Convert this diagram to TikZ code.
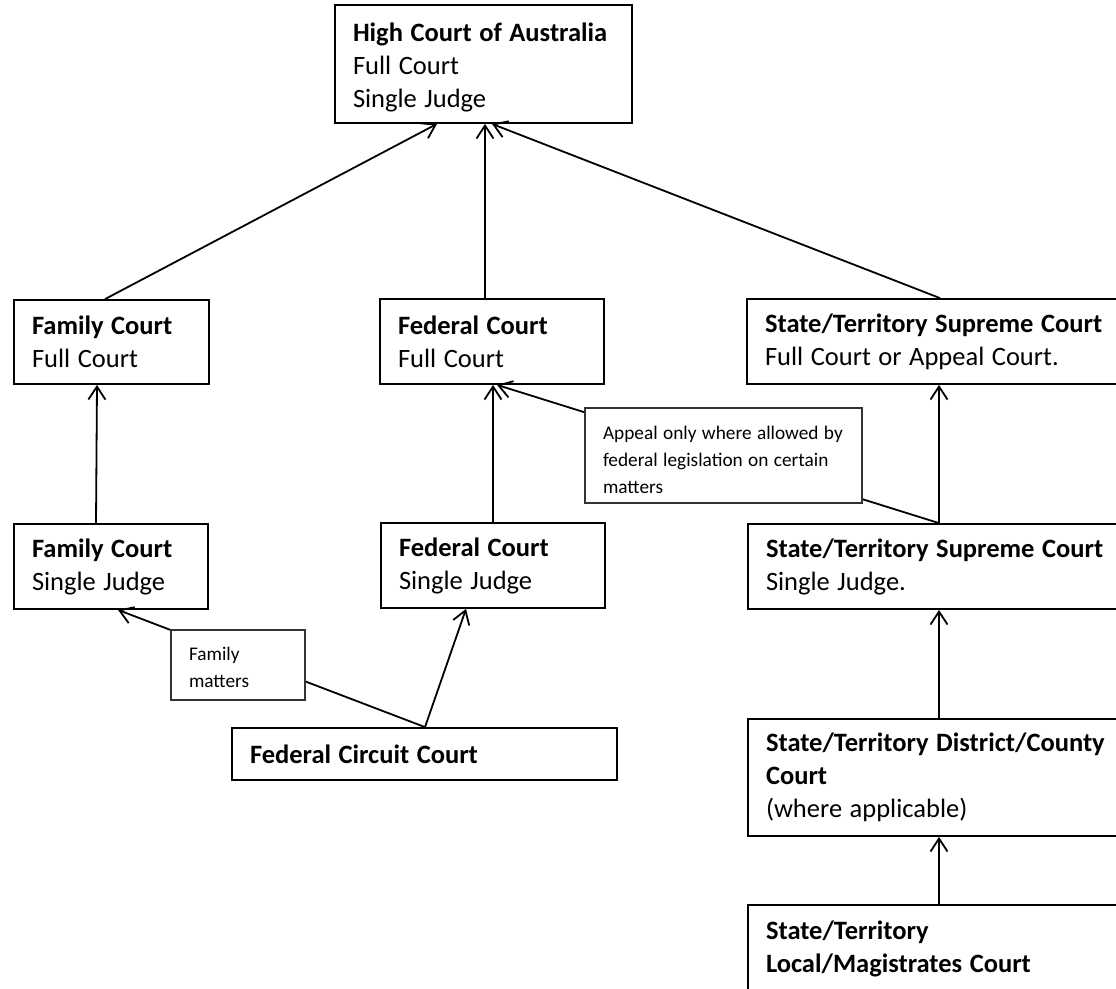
\documentclass[tikz,border=0pt]{standalone}
\usepackage{fontspec}
\setmainfont{Carlito}
\usetikzlibrary{arrows.meta}
\tikzset{
  box/.style={draw=black, line width=1.8pt, fill=white, rectangle, inner xsep=18pt, inner ysep=0pt,
    align=left, font=\fontsize{26.5}{33}\selectfont, execute at begin node={\spaceskip=0.285em\relax}},
  notebox/.style={draw=black!80, line width=1.1pt, fill=white, rectangle, inner xsep=18pt, inner ysep=0pt,
    align=left, font=\fontsize{19.3}{27}\selectfont, execute at begin node={\spaceskip=0.28em\relax}},
  link/.style={line width=1.8pt, -{Straight Barb[length=13pt,width=17pt,line width=1.8pt]}}
}
\begin{document}
\begin{tikzpicture}[x=1pt,y=-1pt]
\useasboundingbox (0,0) rectangle (1116,988);
\fill[white] (0,0) rectangle (1116,988);
\clip (0,0) rectangle (1116,988);

\node[box, minimum width=297pt, text width=261pt, minimum height=118pt] (hc) at (483.5,64)
  {\rule{0pt}{26pt}\textbf{High Court of Australia}\\Full Court\\Single Judge};
\node[box, minimum width=195pt, text width=159pt, minimum height=84pt] (ffull) at (111.5,342)
  {\textbf{Family Court}\\Full Court};
\node[box, minimum width=224pt, text width=188pt, minimum height=85pt] (fedfull) at (492,341.5)
  {\textbf{Federal Court}\\Full Court};
\node[box, minimum width=400pt, text width=364pt, minimum height=85pt] (sfull) at (947,341.5)
  {\textbf{State/Territory Supreme Court}\\Full Court or Appeal Court.};
\node[box, minimum width=194pt, text width=158pt, minimum height=85pt] (fsing) at (111,566.5)
  {\textbf{Family Court}\\Single Judge};
\node[box, minimum width=224pt, text width=188pt, minimum height=85pt] (fedsing) at (493,565.5)
  {\textbf{Federal Court}\\Single Judge};
\node[box, minimum width=400pt, text width=364pt, minimum height=85pt] (ssing) at (948,566.5)
  {\textbf{State/Territory Supreme Court}\\Single Judge.};
\node[box, minimum width=385pt, text width=349pt, minimum height=52pt] (fcc) at (424.5,754)
  {\textbf{Federal Circuit Court}};
\node[box, minimum width=400pt, text width=364pt, minimum height=117pt] (dist) at (948,777.5)
  {\textbf{State/Territory District/County}\\\textbf{Court}\\(where applicable)};
\node[box, minimum width=400pt, text width=364pt, minimum height=87pt] (local) at (948,948.5)
  {\textbf{State/Territory}\\\textbf{Local/Magistrates Court}};

% connectors
\draw[link] ([xshift=-6.5pt]ffull.north) -- ([xshift=-46.5pt]hc.south);
\draw[link] ([xshift=-7pt]fedfull.north) -- ([xshift=1.5pt]hc.south);
\draw[link] ([xshift=-7pt]sfull.north) -- ([xshift=8.5pt]hc.south);
\draw[link] ([xshift=-15pt]fsing.north) -- ([xshift=-14.5pt]ffull.south);
\draw[link] ([xshift=0pt]fedsing.north) -- ([xshift=1pt]fedfull.south);
\draw[link] ([xshift=-9pt]ssing.north) -- ([xshift=-8pt]sfull.south);
\draw[link] ([xshift=-9pt]ssing.north) -- ([xshift=5pt]fedfull.south);
\draw[link] ([xshift=0.5pt]fcc.north) -- ([xshift=7pt]fsing.south);
\draw[link] ([xshift=0.5pt]fcc.north) -- ([xshift=-27pt]fedsing.south);
\draw[link] ([xshift=-9pt]dist.north) -- ([xshift=-9pt]ssing.south);
\draw[link] ([xshift=-9pt]local.north) -- ([xshift=-9pt]dist.south);

% notes on top of the lines
\node[notebox, minimum width=277pt, text width=241pt, minimum height=95pt] (note1) at (723.5,455.5)
  {\rule{0pt}{23pt}\mbox{Appeal only where allowed by}\\\mbox{federal legislation on certain}\\matters};
\node[notebox, minimum width=134pt, text width=98pt, minimum height=70pt] (note2) at (238,665)
  {\rule{0pt}{18pt}Family\\matters};
\end{tikzpicture}
\end{document}
